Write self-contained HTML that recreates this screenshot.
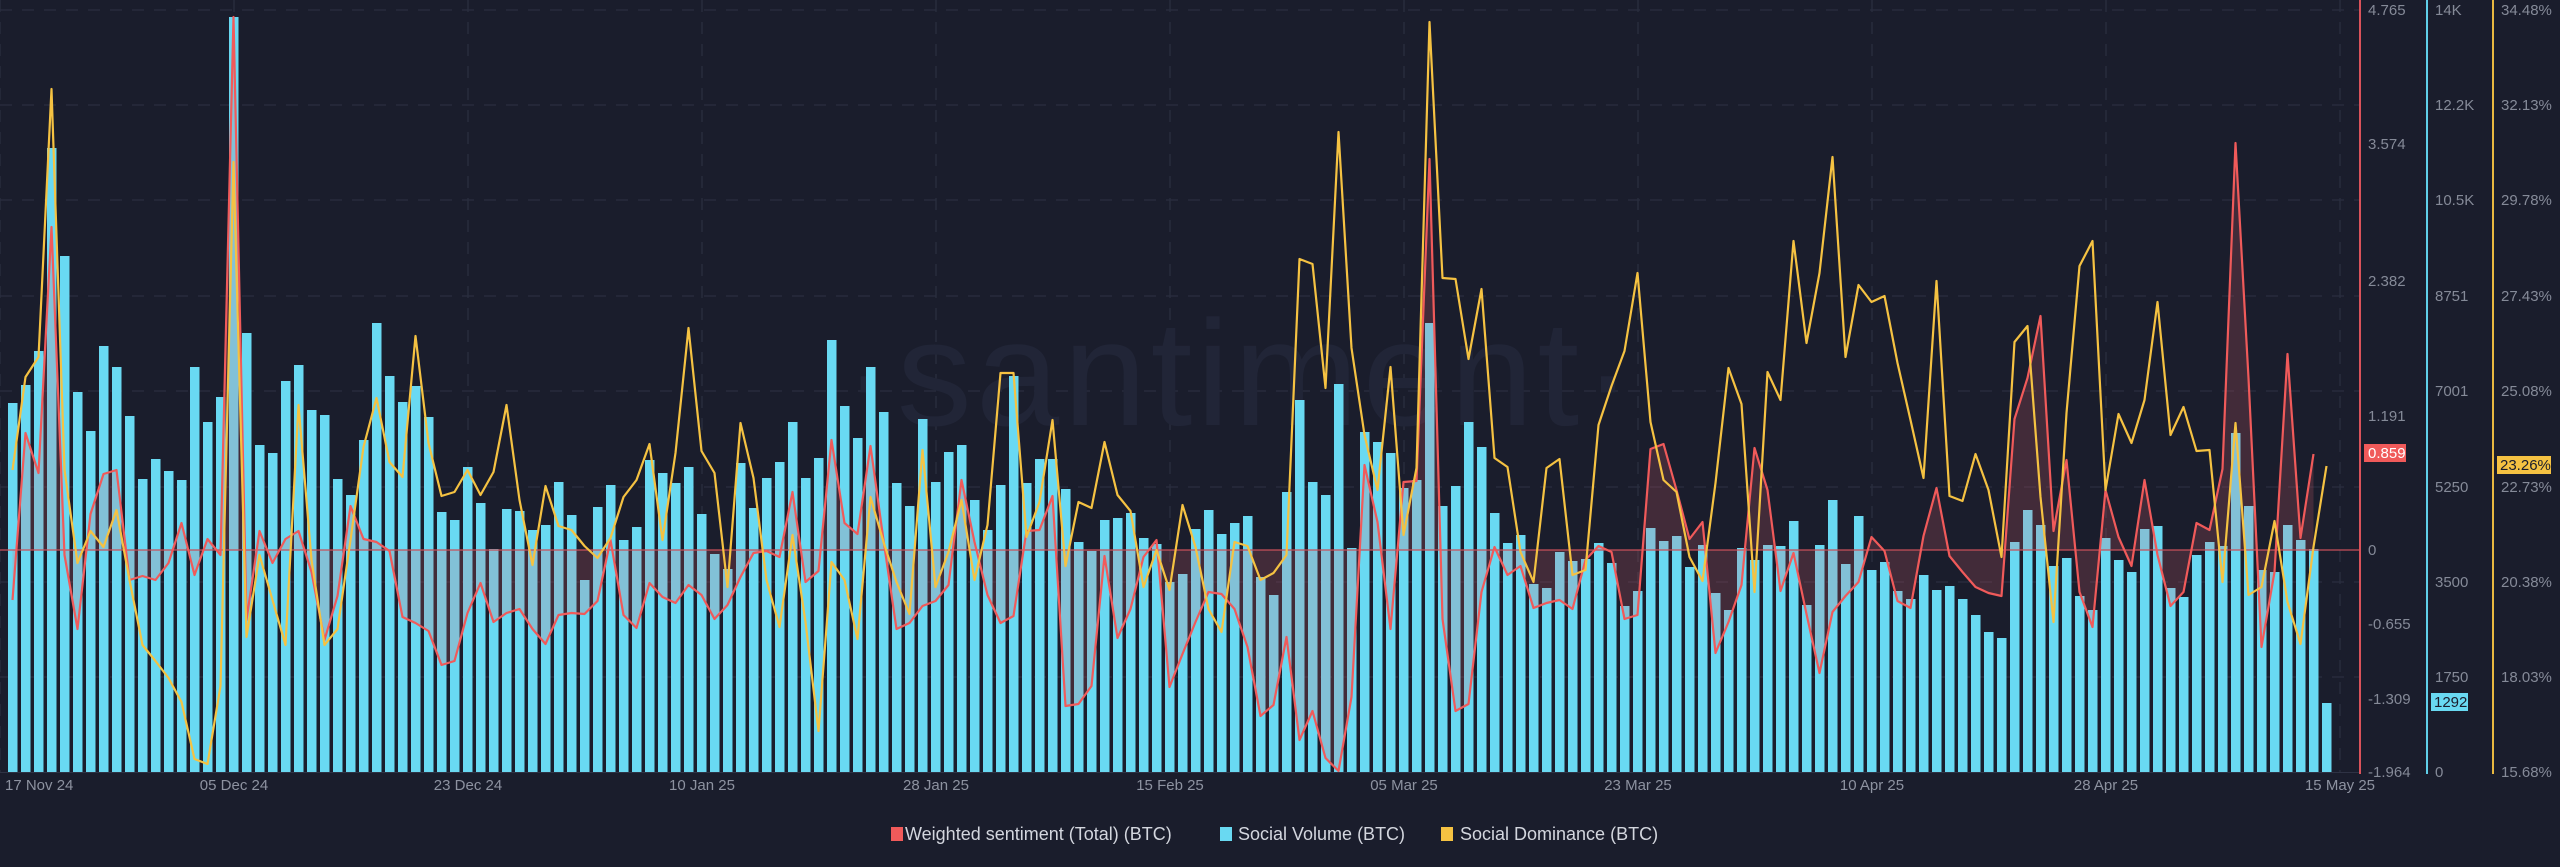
<!DOCTYPE html>
<html><head><meta charset="utf-8"><style>
html,body{margin:0;padding:0;background:#1a1d2c;}
svg{display:block;}
text{font-family:"Liberation Sans",sans-serif;}
</style></head><body>
<svg id="c" width="2560" height="867" viewBox="0 0 2560 867" xmlns="http://www.w3.org/2000/svg">
<rect width="2560" height="867" fill="#1a1d2c"/>
<g id="grid" stroke="#2a2e3f" stroke-width="1.3" stroke-dasharray="12 10"></g>
<text x="1240" y="425" text-anchor="middle" font-size="150" fill="#212537" letter-spacing="4">·santiment·</text>
<g id="bars" fill="#69d9f2"></g>
<path id="fill" fill="rgba(230,100,110,0.2)"/>
<line x1="0" y1="550" x2="2360" y2="550" stroke="#c8505a" stroke-width="1.3"/>
<path id="red" fill="none" stroke="#f05a5a" stroke-width="2.2" stroke-linejoin="round"/>
<path id="yel" fill="none" stroke="#f5c242" stroke-width="2.2" stroke-linejoin="round"/>
<line x1="0" y1="772.5" x2="2360" y2="772.5" stroke="#2e3244" stroke-width="1"/>
<line x1="2360" y1="0" x2="2360" y2="774" stroke="#d9525a" stroke-width="2"/>
<line x1="2427" y1="0" x2="2427" y2="774" stroke="#5fcfe8" stroke-width="2"/>
<line x1="2493" y1="0" x2="2493" y2="774" stroke="#e8b840" stroke-width="2"/>
<g font-size="15" fill="#858a98">
<text x="2368" y="15">4.765</text>
<text x="2368" y="149">3.574</text>
<text x="2368" y="286">2.382</text>
<text x="2368" y="421">1.191</text>
<text x="2368" y="555">0</text>
<text x="2368" y="629">-0.655</text>
<text x="2368" y="704">-1.309</text>
<text x="2368" y="777">-1.964</text>
<text x="2435" y="15">14K</text>
<text x="2435" y="110">12.2K</text>
<text x="2435" y="205">10.5K</text>
<text x="2435" y="301">8751</text>
<text x="2435" y="396">7001</text>
<text x="2435" y="492">5250</text>
<text x="2435" y="587">3500</text>
<text x="2435" y="682">1750</text>
<text x="2435" y="777">0</text>
<text x="2501" y="15">34.48%</text>
<text x="2501" y="110">32.13%</text>
<text x="2501" y="205">29.78%</text>
<text x="2501" y="301">27.43%</text>
<text x="2501" y="396">25.08%</text>
<text x="2501" y="492">22.73%</text>
<text x="2501" y="587">20.38%</text>
<text x="2501" y="682">18.03%</text>
<text x="2501" y="777">15.68%</text>
</g>
<rect x="2364" y="444" width="42" height="18" fill="#f05a5a"/>
<text x="2368" y="458" font-size="15" fill="#ffffff">0.859</text>
<rect x="2431" y="693" width="37" height="18" fill="#69d9f2"/>
<text x="2434" y="707" font-size="15" fill="#1a1d2c">1292</text>
<rect x="2497" y="456" width="54" height="18" fill="#f5c242"/>
<text x="2500" y="470" font-size="15" fill="#1a1d2c">23.26%</text>
<g font-size="15" fill="#8d92a0" text-anchor="middle">
<text x="5" y="790" text-anchor="start">17 Nov 24</text>
<text x="234" y="790">05 Dec 24</text>
<text x="468" y="790">23 Dec 24</text>
<text x="702" y="790">10 Jan 25</text>
<text x="936" y="790">28 Jan 25</text>
<text x="1170" y="790">15 Feb 25</text>
<text x="1404" y="790">05 Mar 25</text>
<text x="1638" y="790">23 Mar 25</text>
<text x="1872" y="790">10 Apr 25</text>
<text x="2106" y="790">28 Apr 25</text>
<text x="2340" y="790">15 May 25</text>
</g>
<g font-size="18" fill="#d3d6de">
<rect x="891" y="827" width="12" height="14" fill="#f05a5a"/>
<text x="905" y="840">Weighted sentiment (Total) (BTC)</text>
<rect x="1220" y="827" width="12" height="14" fill="#69d9f2"/>
<text x="1238" y="840">Social Volume (BTC)</text>
<rect x="1441" y="827" width="12" height="14" fill="#f5c242"/>
<text x="1460" y="840">Social Dominance (BTC)</text>
</g>
</svg>
<script>
var bars=[403,385,351,148,256,392,431,346,367,416,479,459,471,480,367,422,397,17,333,445,453,381,365,410,415,479,495,440,323,376,
402,386,417,512,520,467,503,549,509,511,530,525,482,515,580,507,485,540,527,460,473,483,467,514,554,569,463,508,478,462,
422,478,458,340,406,438,367,412,483,506,419,482,452,445,500,530,485,376,483,459,459,489,542,551,520,518,513,538,544,582,
574,529,510,534,523,516,577,595,492,400,482,495,384,548,432,442,453,488,480,323,506,486,422,447,513,543,535,584,588,552,
561,559,543,563,606,591,528,541,536,567,545,593,610,548,560,545,546,521,605,545,500,564,516,570,562,591,599,575,590,586,
599,615,632,638,542,510,525,566,558,596,610,538,560,572,529,526,588,597,555,542,546,433,506,570,572,525,540,549,703];
var red=[600,433,473,227,555,629,514,474,470,580,576,580,563,523,575,539,555,17,620,531,563,539,531,572,640,596,506,539,542,551,
617,623,631,665,661,613,583,622,613,609,629,644,615,613,614,601,540,615,628,583,597,603,585,595,619,605,577,553,551,557,
492,582,571,440,523,534,446,540,629,623,606,601,585,480,542,595,623,616,531,530,496,706,704,686,556,638,609,557,540,687,
654,622,592,594,609,647,716,705,637,740,711,758,771,697,465,522,629,482,481,159,619,711,704,592,547,575,566,608,603,600,
609,560,546,552,619,615,449,444,490,539,522,653,622,585,448,490,591,553,614,673,612,596,582,537,551,601,608,536,488,556,
572,587,593,596,419,378,316,531,460,592,627,490,537,566,480,555,606,592,523,530,469,143,378,647,572,354,538,454];
var yel=[470,377,357,89,470,563,531,547,510,580,645,661,678,702,759,764,686,162,637,555,600,645,405,560,645,629,540,447,398,462,
477,336,443,496,492,470,495,472,405,500,565,486,526,530,546,558,538,497,480,444,540,453,328,451,473,587,423,478,580,627,
535,622,731,562,580,639,497,542,582,614,450,587,552,500,580,525,373,373,537,502,420,566,502,508,442,495,511,587,550,590,
505,547,609,632,542,546,580,573,555,259,264,388,132,348,435,490,367,535,468,22,278,279,359,289,458,467,552,582,468,459,
575,570,425,386,351,273,422,480,492,557,581,483,368,404,592,372,400,241,343,273,157,357,285,302,296,363,420,478,281,496,
501,454,490,557,342,326,497,622,413,266,241,490,414,443,400,302,435,407,451,450,582,423,595,587,521,602,644,547,466];
var NS="http://www.w3.org/2000/svg";
function cx(i){return 12.5+13*i;}
var g=document.getElementById('bars');
for(var i=0;i<bars.length;i++){var r=document.createElementNS(NS,'rect');r.setAttribute('x',8+13*i);r.setAttribute('y',bars[i]);r.setAttribute('width',9.5);r.setAttribute('height',772-bars[i]);g.appendChild(r);}
var gr=document.getElementById('grid');
[10,105,200,296,391,487,582,677].forEach(function(y){var l=document.createElementNS(NS,'line');l.setAttribute('x1',0);l.setAttribute('x2',2360);l.setAttribute('y1',y);l.setAttribute('y2',y);gr.appendChild(l);});
for(var k=0;k<=10;k++){var x=234*k;var l=document.createElementNS(NS,'line');l.setAttribute('x1',x);l.setAttribute('x2',x);l.setAttribute('y1',0);l.setAttribute('y2',772);gr.appendChild(l);}
function pts(a){return a.map(function(v,i){return cx(i).toFixed(1)+','+v;}).join(' L');}
document.getElementById('red').setAttribute('d','M'+pts(red));
document.getElementById('yel').setAttribute('d','M'+pts(yel));
document.getElementById('fill').setAttribute('d','M'+cx(0)+',550 L'+pts(red)+' L'+cx(red.length-1)+',550 Z');
</script>
</body></html>
